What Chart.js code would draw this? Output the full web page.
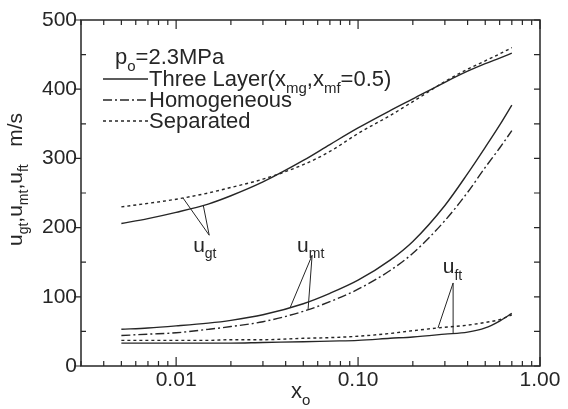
<!DOCTYPE html>
<html>
<head>
<meta charset="utf-8">
<script src="https://cdn.jsdelivr.net/npm/chart.js@4"></script>
<style>
  body { margin: 0; background: #fff; }
  canvas { display: block; }
</style>
</head>
<body>
<canvas id="velChart" width="568" height="409"></canvas>
<script>
// x_o values (log axis) and velocities in m/s
const xo = [0.005, 0.007, 0.01, 0.015, 0.02, 0.03, 0.05, 0.07, 0.1, 0.15, 0.2, 0.3, 0.4, 0.5, 0.6, 0.7];
const ugtThree = [206, 213, 222, 234, 246, 266, 297, 320, 344, 369, 386, 410, 426, 437, 445, 452];
const ugtSep = [230, 235, 241, 250, 258, 270, 291, 310, 336, 362, 382, 411, 429, 441, 451, 460];
const umtThree = [53, 55, 58, 62, 66, 74, 90, 105, 124, 153, 180, 232, 278, 316, 348, 377];
const umtHomo = [44, 46, 48, 53, 57, 64, 79, 93, 111, 138, 163, 210, 251, 287, 315, 340];
const uftThree = [33, 33, 33, 33, 33, 34, 35, 36, 37, 40, 42, 46, 49, 55, 65, 76];
const uftSep = [37, 37, 37, 37, 38, 38, 40, 41, 43, 47, 51, 56, 59, 63, 67, 74];

const xTicks = [0.01, 0.1, 1];
const yTicks = [0, 100, 200, 300, 400, 500];

const FONT = "'Liberation Sans', Arial, sans-serif";
const INK = "#262626";

const pts = (ys) => xo.map((x, i) => ({ x: x, y: ys[i] }));

// line styles for the three models
const styles = {
  three: [],
  homo: [9, 3, 2, 3],
  sep: [3, 3],
};

// text with subscripts: runs are [text, isSub]
function drawRich(ctx, x, y, runs, size) {
  let cx = x;
  runs.forEach(([t, sub]) => {
    ctx.font = (sub ? Math.round(size * 0.68) : size) + "px " + FONT;
    ctx.fillText(t, cx, sub ? y + size * 0.3 : y);
    cx += ctx.measureText(t).width;
  });
}

// value of a series at x, interpolated in log x
function valueAt(ys, x) {
  const lx = Math.log10(x);
  for (let i = 0; i < xo.length - 1; i++) {
    const a = Math.log10(xo[i]), b = Math.log10(xo[i + 1]);
    if (lx >= a && lx <= b) return ys[i] + (ys[i + 1] - ys[i]) * (lx - a) / (b - a);
  }
  return ys[ys.length - 1];
}

// curve labels with leader lines
const notes = [
  { runs: [["u", 0], ["gt", 1]], at: [0.0124, 165], apex: [0.0152, 189], ends: [[0.0109, ugtSep], [0.0141, ugtThree]] },
  { runs: [["u", 0], ["mt", 1]], at: [0.0462, 165], apex: [0.0559, 160], ends: [[0.0424, umtThree], [0.0531, umtHomo]] },
  { runs: [["u", 0], ["ft", 1]], at: [0.292, 134], apex: [0.333, 120], ends: [[0.275, uftSep], [0.333, uftThree]] },
];

const legendItems = [
  { runs: [["Three Layer(x", 0], ["mg", 1], [",x", 0], ["mf", 1], ["=0.5)", 0]], dash: styles.three },
  { runs: [["Homogeneous", 0]], dash: styles.homo },
  { runs: [["Separated", 0]], dash: styles.sep },
];

const decor = {
  id: "decor",
  afterDraw(chart) {
    const { ctx, chartArea: a, scales: { x, y } } = chart;
    ctx.save();
    ctx.strokeStyle = INK;
    ctx.fillStyle = INK;

    // frame
    ctx.lineWidth = 1.5;
    ctx.strokeRect(a.left, a.top, a.right - a.left, a.bottom - a.top);

    // log ticks on bottom and top, pointing in
    ctx.lineWidth = 1.2;
    ctx.beginPath();
    for (let d = -3; d <= 0; d++) {
      for (let m = 1; m <= 9; m++) {
        const v = m * Math.pow(10, d);
        if (v < 0.003 - 1e-9 || v > 1 + 1e-9) continue;
        const px = x.getPixelForValue(v);
        const len = m === 1 ? 9 : 5;
        ctx.moveTo(px, a.bottom); ctx.lineTo(px, a.bottom - len);
        ctx.moveTo(px, a.top); ctx.lineTo(px, a.top + len);
      }
    }
    // y ticks: majors outside on the left, minors inside; right side inside
    for (let v = 0; v <= 500; v += 50) {
      const py = y.getPixelForValue(v);
      if (v % 100 === 0) { ctx.moveTo(a.left, py); ctx.lineTo(a.left - 7, py); }
      else { ctx.moveTo(a.left, py); ctx.lineTo(a.left + 5, py); }
      ctx.moveTo(a.right, py); ctx.lineTo(a.right - 6, py);
    }
    ctx.stroke();

    // legend
    const lx0 = 103, lx1 = 148;
    ctx.textBaseline = "alphabetic";
    drawRich(ctx, 115, 64, [["p", 0], ["o", 1], ["=2.3MPa", 0]], 22);
    legendItems.forEach((it, i) => {
      const ly = 79 + i * 21;
      ctx.lineWidth = 1.4;
      ctx.setLineDash(it.dash);
      ctx.beginPath(); ctx.moveTo(lx0, ly); ctx.lineTo(lx1, ly); ctx.stroke();
      ctx.setLineDash([]);
      drawRich(ctx, lx1 + 1, ly + 7, it.runs, 22);
    });

    // curve labels
    ctx.lineWidth = 1;
    notes.forEach((n) => {
      drawRich(ctx, x.getPixelForValue(n.at[0]), y.getPixelForValue(n.at[1]), n.runs, 21);
      const ax = x.getPixelForValue(n.apex[0]), ay = y.getPixelForValue(n.apex[1]);
      ctx.beginPath();
      n.ends.forEach(([ex, ys]) => {
        ctx.moveTo(ax, ay);
        ctx.lineTo(x.getPixelForValue(ex), y.getPixelForValue(valueAt(ys, ex)));
      });
      ctx.stroke();
    });

    // x axis title
    drawRich(ctx, 291, 398, [["x", 0], ["o", 1]], 22);

    // y axis title, rotated
    ctx.save();
    ctx.translate(22, 246);
    ctx.rotate(-Math.PI / 2);
    drawRich(ctx, 0, 0, [["u", 0], ["gt", 1], [",u", 0], ["mt", 1], [",u", 0], ["ft", 1], ["   m/s", 0]], 21);
    ctx.restore();

    ctx.restore();
  },
};

const ds = (label, ys, dash) => ({
  label: label,
  data: pts(ys),
  borderColor: INK,
  borderWidth: 1.4,
  borderDash: dash,
  pointRadius: 0,
  fill: false,
  cubicInterpolationMode: "monotone",
});

new Chart(document.getElementById("velChart"), {
  type: "line",
  data: {
    datasets: [
      ds("ugt Three Layer", ugtThree, styles.three),
      ds("ugt Separated", ugtSep, styles.sep),
      ds("umt Three Layer", umtThree, styles.three),
      ds("umt Homogeneous", umtHomo, styles.homo),
      ds("uft Three Layer", uftThree, styles.three),
      ds("uft Separated", uftSep, styles.sep),
    ],
  },
  options: {
    responsive: false,
    animation: false,
    layout: { padding: { top: 20, right: 28, left: 0, bottom: 0 } },
    scales: {
      x: {
        type: "logarithmic",
        min: 0.003,
        max: 1,
        grid: { display: false, drawTicks: false },
        border: { display: false },
        afterBuildTicks: (s) => { s.ticks = xTicks.map((v) => ({ value: v })); },
        afterFit: (s) => { s.height = 43; },
        ticks: {
          autoSkip: false,
          maxRotation: 0,
          padding: 2,
          color: INK,
          font: { family: FONT, size: 21 },
          callback: (v) => Number(v).toFixed(2),
        },
      },
      y: {
        min: 0,
        max: 500,
        grid: { display: false, drawTicks: false },
        border: { display: false },
        afterBuildTicks: (s) => { s.ticks = yTicks.map((v) => ({ value: v })); },
        afterFit: (s) => { s.width = 81; },
        ticks: {
          padding: 4,
          color: INK,
          font: { family: FONT, size: 21 },
        },
      },
    },
    plugins: {
      legend: { display: false },
      tooltip: { enabled: false },
    },
  },
  plugins: [decor],
});
</script>
</body>
</html>
